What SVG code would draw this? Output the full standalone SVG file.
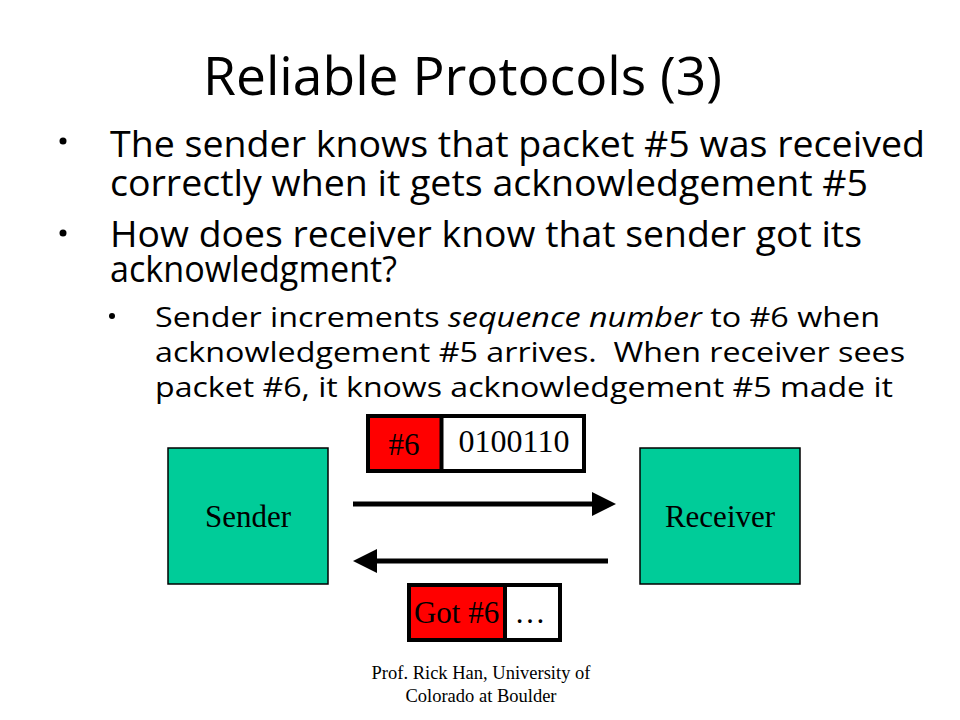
<svg xmlns="http://www.w3.org/2000/svg" width="960" height="720" viewBox="0 0 960 720">
<style>
.comic{font-family:"Open Sans","DejaVu Sans",sans-serif;fill:#000}
.title{font-size:53px}
.main{font-size:36px}
.sub{font-size:27px}
.serif{font-family:"Liberation Serif","Times New Roman",serif;fill:#000}
.box{fill:#00CC99;stroke:#000;stroke-width:1.5}
.cell{stroke:#000;stroke-width:4}
.conn{stroke:#000;stroke-width:5;fill:none}
</style>
<rect width="960" height="720" fill="#fff"/>
<g id="title">
<text class="comic title" x="203" y="95" textLength="519" lengthAdjust="spacingAndGlyphs">Reliable Protocols (3)</text>
</g>
<g id="bullets">
<circle cx="63" cy="141" r="3.5"/>
<text class="comic main" x="110" y="157" textLength="815" lengthAdjust="spacingAndGlyphs">The sender knows that packet #5 was received</text>
<text class="comic main" x="110" y="196" textLength="758" lengthAdjust="spacingAndGlyphs">correctly when it gets acknowledgement #5</text>
<circle cx="63" cy="233" r="3.5"/>
<text class="comic main" x="110" y="247" textLength="752" lengthAdjust="spacingAndGlyphs">How does receiver know that sender got its</text>
<text class="comic main" x="110" y="282" textLength="287" lengthAdjust="spacingAndGlyphs">acknowledgment?</text>
<circle cx="112" cy="316" r="3"/>
<text class="comic sub" x="155" y="327" textLength="725" lengthAdjust="spacingAndGlyphs">Sender increments <tspan font-style="italic">sequence number</tspan> to #6 when</text>
<text class="comic sub" x="155" y="362" textLength="750" lengthAdjust="spacingAndGlyphs" xml:space="preserve">acknowledgement #5 arrives.  When receiver sees</text>
<text class="comic sub" x="155" y="397" textLength="738" lengthAdjust="spacingAndGlyphs">packet #6, it knows acknowledgement #5 made it</text>
</g>
<g id="sender">
<rect class="box" x="168" y="448" width="160" height="136"/>
<text class="serif" x="248" y="527" font-size="31" text-anchor="middle">Sender</text>
</g>
<g id="receiver">
<rect class="box" x="640" y="448" width="160" height="136"/>
<text class="serif" x="720" y="527" font-size="31" text-anchor="middle">Receiver</text>
</g>
<g id="packet">
<rect class="cell" x="368" y="416" width="216" height="55" fill="#fff"/>
<rect class="cell" x="368" y="416" width="73.5" height="55" fill="#FF0000"/>
<text class="serif" x="404" y="455" font-size="31" text-anchor="middle">#6</text>
<text class="serif" x="514" y="452" font-size="32" text-anchor="middle">0100110</text>
</g>
<g id="ack">
<rect class="cell" x="409" y="585" width="151" height="55" fill="#fff"/>
<rect class="cell" x="409" y="585" width="96" height="55" fill="#FF0000"/>
<text class="serif" x="456.5" y="623" font-size="31" text-anchor="middle">Got #6</text>
<text class="serif" x="530" y="623" font-size="31" text-anchor="middle">…</text>
</g>
<g id="connectors">
<line class="conn" x1="353" y1="504" x2="594" y2="504"/>
<polygon points="592,492 616,504 592,516" fill="#000"/>
<line class="conn" x1="375" y1="561" x2="608" y2="561"/>
<polygon points="377,549 353,561 377,573" fill="#000"/>
</g>
<g id="footer">
<text class="serif" x="481" y="679" font-size="18.5" text-anchor="middle">Prof. Rick Han, University of</text>
<text class="serif" x="481" y="702" font-size="18.5" text-anchor="middle">Colorado at Boulder</text>
</g>
</svg>
